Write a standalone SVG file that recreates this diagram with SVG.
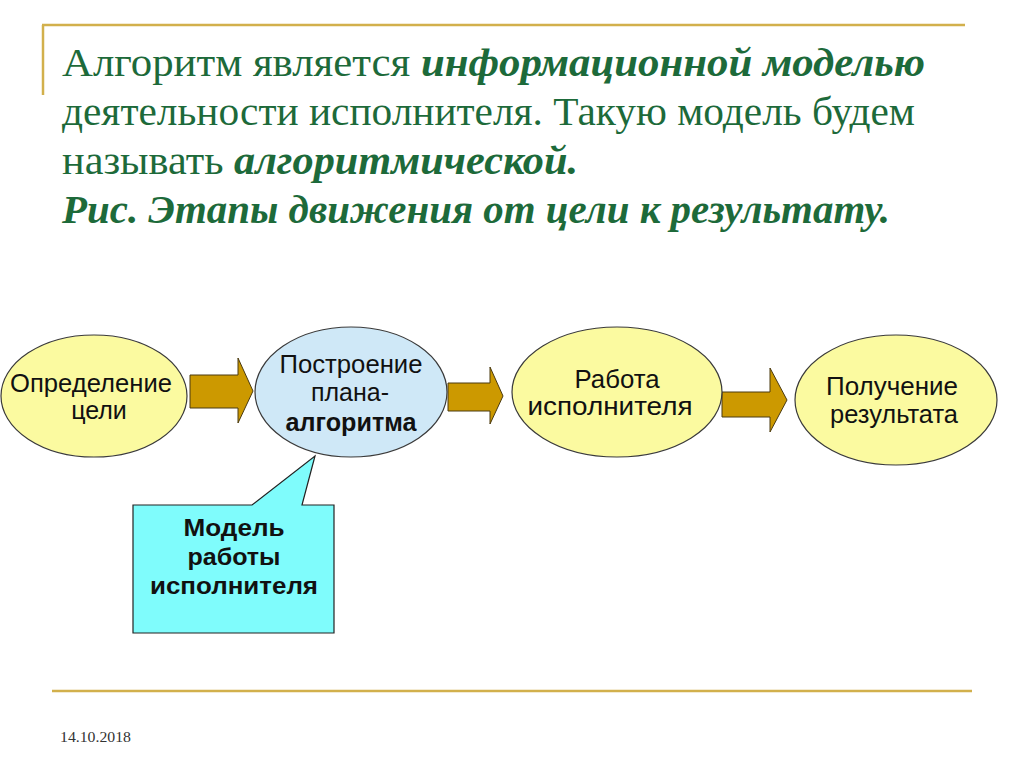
<svg xmlns="http://www.w3.org/2000/svg" width="1024" height="768" viewBox="0 0 1024 768">
<style>
.title{font-family:"Liberation Serif",serif;font-size:40px;fill:#1d6a3a}
.bi{font-weight:bold;font-style:italic}
.node{stroke:#3a3a3a;stroke-width:1.2}
.yel{fill:#fbfaa0}
.blu{fill:#cfe8f7}
.lbl{font-family:"Liberation Sans",Arial,sans-serif;font-size:25px;fill:#111;text-anchor:middle}
.cl{font-weight:bold;font-size:24px}
.arrow{fill:#cc9900;stroke:#4a3a10;stroke-width:1}
.gold{stroke:#d2b04c;stroke-width:2.5}
</style>
<rect width="1024" height="768" fill="#fff"/>
<line class="gold" x1="42" y1="25" x2="965" y2="25"/>
<line class="gold" x1="43" y1="25" x2="43" y2="95"/>
<line class="gold" x1="52" y1="691" x2="972" y2="691"/>
<g id="title">
<text class="title" x="62" y="76" textLength="863" lengthAdjust="spacingAndGlyphs">Алгоритм является <tspan class="bi">информационной моделью</tspan></text>
<text class="title" x="62" y="125" textLength="853" lengthAdjust="spacingAndGlyphs">деятельности исполнителя. Такую модель будем</text>
<text class="title" x="62" y="174" textLength="516" lengthAdjust="spacingAndGlyphs">называть <tspan class="bi">алгоритмической.</tspan></text>
<text class="title bi" x="62" y="223" textLength="828" lengthAdjust="spacingAndGlyphs">Рис. Этапы движения от цели к результату.</text>
</g>
<g id="connectors">
<polygon class="arrow" points="190,375 238,375 238,358 253,391 238,423 238,408 190,408"/>
<polygon class="arrow" points="448,383 490,383 490,367 503,396 490,424 490,411 448,411"/>
<polygon class="arrow" points="722,392 770,392 770,368 787,400 770,432 770,417 722,417"/>
</g>
<g id="n1">
<ellipse class="node yel" cx="94" cy="396" rx="93" ry="61"/>
<text class="lbl" x="91" y="392" textLength="162" lengthAdjust="spacingAndGlyphs">Определение</text>
<text class="lbl" x="99" y="419">цели</text>
</g>
<g id="n2">
<ellipse class="node blu" cx="351" cy="392" rx="96" ry="65"/>
<text class="lbl" x="351" y="373" textLength="143" lengthAdjust="spacingAndGlyphs">Построение</text>
<text class="lbl" x="350" y="401" textLength="78" lengthAdjust="spacingAndGlyphs">плана-</text>
<text class="lbl" x="351" y="431" font-weight="bold" textLength="131" lengthAdjust="spacingAndGlyphs">алгоритма</text>
</g>
<g id="n3">
<ellipse class="node yel" cx="617" cy="392" rx="105" ry="65"/>
<text class="lbl" x="617" y="388" textLength="85" lengthAdjust="spacingAndGlyphs">Работа</text>
<text class="lbl" x="610" y="415" textLength="165" lengthAdjust="spacingAndGlyphs">исполнителя</text>
</g>
<g id="n4">
<ellipse class="node yel" cx="896" cy="400" rx="101" ry="65"/>
<text class="lbl" x="892" y="395" textLength="132" lengthAdjust="spacingAndGlyphs">Получение</text>
<text class="lbl" x="894" y="423" textLength="128" lengthAdjust="spacingAndGlyphs">результата</text>
</g>
<g id="callout">
<path d="M133,505 H252 L315,456 L302,505 H334 V633 H133 Z" fill="#7ffcfc" stroke="#222" stroke-width="1.2"/>
<text class="lbl cl" x="234" y="536" textLength="101" lengthAdjust="spacingAndGlyphs">Модель</text>
<text class="lbl cl" x="234" y="565" textLength="93" lengthAdjust="spacingAndGlyphs">работы</text>
<text class="lbl cl" x="234" y="594" textLength="168" lengthAdjust="spacingAndGlyphs">исполнителя</text>
</g>
<text x="60" y="742" font-family="Liberation Serif,serif" font-size="15" fill="#333" textLength="71" lengthAdjust="spacingAndGlyphs">14.10.2018</text>
</svg>
